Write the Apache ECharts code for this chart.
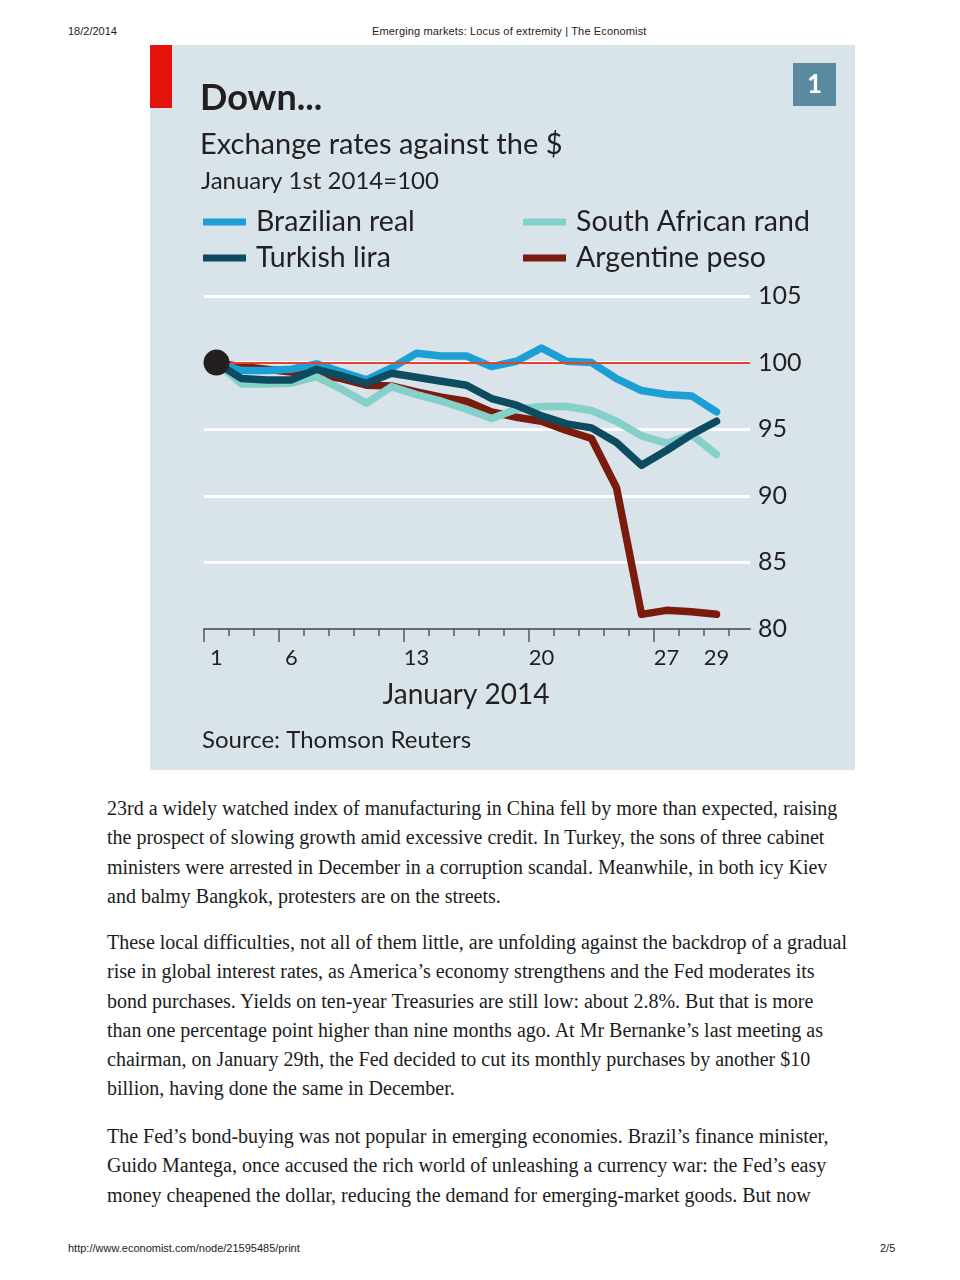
<!DOCTYPE html>
<html>
<head>
<meta charset="utf-8">
<script src="https://cdn.jsdelivr.net/npm/echarts@6.0.0/dist/echarts.min.js"></script>
<style>
  html, body { margin: 0; padding: 0; background: #ffffff; }
  body { width: 960px; height: 1280px; position: relative; overflow: hidden; }
  #chart { position: absolute; left: 0; top: 0; width: 960px; height: 790px; }
  .hdr { position: absolute; font-family: "Liberation Sans", Arial, sans-serif; font-size: 11px; color: #222; white-space: nowrap; line-height: 14px; }
  .para { position: absolute; left: 107px; font-family: "Liberation Serif", "DejaVu Serif", serif; font-size: 20px; line-height: 29.3px; color: #1c1c1c; white-space: nowrap; }
</style>
</head>
<body>
<div class="hdr" style="left:68px; top:24px;">18/2/2014</div>
<div class="hdr" style="left:372px; top:24px; letter-spacing:0.15px;">Emerging markets: Locus of extremity | The Economist</div>
<div id="chart"></div>
<div class="para" style="top:794px;">23rd a widely watched index of manufacturing in China fell by more than expected, raising<br>the prospect of slowing growth amid excessive credit. In Turkey, the sons of three cabinet<br>ministers were arrested in December in a corruption scandal. Meanwhile, in both icy Kiev<br>and balmy Bangkok, protesters are on the streets.</div>
<div class="para" style="top:928px;">These local difficulties, not all of them little, are unfolding against the backdrop of a gradual<br>rise in global interest rates, as America’s economy strengthens and the Fed moderates its<br>bond purchases. Yields on ten-year Treasuries are still low: about 2.8%. But that is more<br>than one percentage point higher than nine months ago. At Mr Bernanke’s last meeting as<br>chairman, on January 29th, the Fed decided to cut its monthly purchases by another $10<br>billion, having done the same in December.</div>
<div class="para" style="top:1122px;">The Fed’s bond-buying was not popular in emerging economies. Brazil’s finance minister,<br>Guido Mantega, once accused the rich world of unleashing a currency war: the Fed’s easy<br>money cheapened the dollar, reducing the demand for emerging-market goods. But now</div>
<div class="hdr" style="left:68px; top:1241px;">http://www.economist.com/node/21595485/print</div>
<div class="hdr" style="left:880px; top:1241px;">2/5</div>
<script>
// ---- data ----
const days = ['1','2','3','6','7','8','9','10','13','14','15','16','17','20','21','22','23','24','27','28','29'];
const labelDays = ['1','6','13','20','27','29'];
const weekStartDays = ['1','6','13','20'];
const baseValue = 100;
const yMin = 80, yMax = 105, yStep = 5;

const brazilianReal    = [100, 99.4, 99.4, 99.5, 99.9, 99.3, 98.7, 99.6, 100.7, 100.5, 100.5, 99.7, 100.1, 101.1, 100.1, 100.0, 98.8, 97.9, 97.6, 97.5, 96.3];
const southAfricanRand = [100, 98.4, 98.4, 98.45, 98.95, 98.0, 96.95, 98.2, 97.6, 97.1, 96.5, 95.8, 96.5, 96.7, 96.7, 96.4, 95.6, 94.5, 93.95, 94.6, 93.1];
const turkishLira      = [100, 98.8, 98.7, 98.7, 99.5, 99.0, 98.45, 99.2, 98.9, 98.6, 98.3, 97.3, 96.8, 96.0, 95.4, 95.1, 94.0, 92.3, 93.4, 94.6, 95.6];
const argentinePeso    = [100, 99.7, 99.5, 99.3, 99.1, 98.8, 98.3, 98.25, 97.8, 97.4, 97.1, 96.3, 95.9, 95.6, 94.9, 94.3, 90.6, 81.1, 81.4, 81.3, 81.1];

const colors = {
  real: '#1c9fd5',
  rand: '#85d0c8',
  lira: '#0c4b60',
  peso: '#7a1b0d',
  ref: '#e4432f'
};
const FONT = 'Lato, "Open Sans", sans-serif';
const INK = '#231f20';

const chart = echarts.init(document.getElementById('chart'), null, { renderer: 'canvas' });

const plotLeft = 204, plotTop = 296, plotH = 333, band = 25;

const legendText = { fontFamily: FONT, fontSize: 28.5, color: INK, lineHeight: 30, padding: [0, 0, 0, 5] };

const option = {
  animation: false,
  backgroundColor: 'transparent',
  graphic: [
    { type: 'rect', z: -100, shape: { x: 150, y: 45, width: 705, height: 725 }, style: { fill: '#d8e3ea' } },
    { type: 'rect', z: -99, shape: { x: 150, y: 45, width: 22, height: 63 }, style: { fill: '#e3120b' } },
    { type: 'rect', z: -99, shape: { x: 793, y: 63, width: 43, height: 43 }, style: { fill: '#5a8aa0' } },
    { type: 'text', z: 10, style: { text: '1', x: 814.5, y: 85, align: 'center', verticalAlign: 'middle', font: 'bold 26px ' + FONT, fill: '#ffffff' } },
    { type: 'text', z: 10, style: { text: 'Down...', x: 200, y: 98, verticalAlign: 'middle', font: 'bold 36px ' + FONT, fill: INK } },
    { type: 'text', z: 10, style: { text: 'Exchange rates against the $', x: 200, y: 145, verticalAlign: 'middle', font: '29px ' + FONT, fill: INK } },
    { type: 'text', z: 10, style: { text: 'January 1st 2014=100', x: 201, y: 181, verticalAlign: 'middle', font: '24px ' + FONT, fill: INK } },
    { type: 'text', z: 10, style: { text: 'January 2014', x: 466, y: 695, align: 'center', verticalAlign: 'middle', font: '28px ' + FONT, fill: INK } },
    { type: 'text', z: 10, style: { text: 'Source: Thomson Reuters', x: 202, y: 740, verticalAlign: 'middle', font: '24px ' + FONT, fill: INK } }
  ],
  legend: [
    {
      left: 203, top: 207, padding: 0, orient: 'vertical', itemGap: 6, itemWidth: 43, itemHeight: 7,
      icon: 'rect', selectedMode: false,
      data: ['Brazilian real', 'Turkish lira'],
      textStyle: legendText
    },
    {
      left: 523, top: 207, padding: 0, orient: 'vertical', itemGap: 6, itemWidth: 43, itemHeight: 7,
      icon: 'rect', selectedMode: false,
      data: ['South African rand', 'Argentine peso'],
      textStyle: legendText
    }
  ],
  grid: [
    { left: plotLeft, top: plotTop, width: 546, height: plotH, outerBoundsMode: 'none', containLabel: false },
    { left: plotLeft, top: plotTop, width: band * days.length, height: plotH, outerBoundsMode: 'none', containLabel: false },
    { left: plotLeft, top: plotTop, width: band * 18, height: plotH, outerBoundsMode: 'none', containLabel: false }
  ],
  xAxis: [
    {
      gridIndex: 0, type: 'value', min: 0, max: 1, position: 'bottom',
      axisLine: { show: true, onZero: false, lineStyle: { color: '#6a6a6a', width: 2 } },
      axisTick: { show: false }, axisLabel: { show: false }, splitLine: { show: false }
    },
    {
      gridIndex: 1, type: 'category', data: days, boundaryGap: true, position: 'bottom',
      axisLine: { show: false, onZero: false },
      axisTick: { show: true, interval: 0, length: 7, lineStyle: { color: '#555', width: 1.5 } },
      axisLabel: {
        interval: function (i) { return labelDays.indexOf(days[i]) >= 0; },
        margin: 18, fontFamily: FONT, fontSize: 22, color: INK, hideOverlap: false
      },
      splitLine: { show: false }
    },
    {
      gridIndex: 2, type: 'category', data: days.slice(0, 18), boundaryGap: true, position: 'bottom',
      axisLine: { show: false, onZero: false },
      axisTick: {
        show: true, length: 13, lineStyle: { color: '#555', width: 1.5 },
        interval: function (i) { return weekStartDays.indexOf(days[i]) >= 0; }
      },
      axisLabel: { show: false }, splitLine: { show: false }
    }
  ],
  yAxis: [
    {
      gridIndex: 0, type: 'value', min: yMin, max: yMax, interval: yStep, position: 'right',
      axisLine: { show: false }, axisTick: { show: false },
      axisLabel: { margin: 8, fontFamily: FONT, fontSize: 25, color: INK },
      splitLine: { show: true, lineStyle: { color: ['rgba(0,0,0,0)', '#ffffff', '#ffffff', '#ffffff', '#ffffff', '#ffffff'], width: 3 } }
    },
    { gridIndex: 1, type: 'value', min: yMin, max: yMax, interval: yStep, show: false, splitLine: { show: false } },
    { gridIndex: 2, type: 'value', min: yMin, max: yMax, interval: yStep, show: false, splitLine: { show: false } }
  ],
  series: [
    {
      type: 'line', name: 'ref', xAxisIndex: 0, yAxisIndex: 0, data: [], silent: true,
      markLine: {
        silent: true, symbol: 'none', label: { show: false },
        lineStyle: { color: colors.ref, width: 2, type: 'solid' },
        data: [{ yAxis: baseValue }]
      }
    },
    {
      type: 'line', name: 'Argentine peso', xAxisIndex: 1, yAxisIndex: 1, data: argentinePeso,
      symbol: 'none', color: colors.peso, lineStyle: { color: colors.peso, width: 7.5, cap: 'round', join: 'round' }
    },
    {
      type: 'line', name: 'South African rand', xAxisIndex: 1, yAxisIndex: 1, data: southAfricanRand,
      symbol: 'none', color: colors.rand, lineStyle: { color: colors.rand, width: 7.5, cap: 'round', join: 'round' }
    },
    {
      type: 'line', name: 'Brazilian real', xAxisIndex: 1, yAxisIndex: 1, data: brazilianReal,
      symbol: 'none', color: colors.real, lineStyle: { color: colors.real, width: 7.5, cap: 'round', join: 'round' }
    },
    {
      type: 'line', name: 'Turkish lira', xAxisIndex: 1, yAxisIndex: 1, data: turkishLira,
      symbol: 'none', color: colors.lira, lineStyle: { color: colors.lira, width: 7.5, cap: 'round', join: 'round' }
    },
    {
      type: 'scatter', name: 'base', xAxisIndex: 1, yAxisIndex: 1, data: [[0, baseValue]],
      symbolSize: 26, itemStyle: { color: INK, opacity: 1 }, z: 5, silent: true
    }
  ]
};
chart.setOption(option);
</script>
</body>
</html>
